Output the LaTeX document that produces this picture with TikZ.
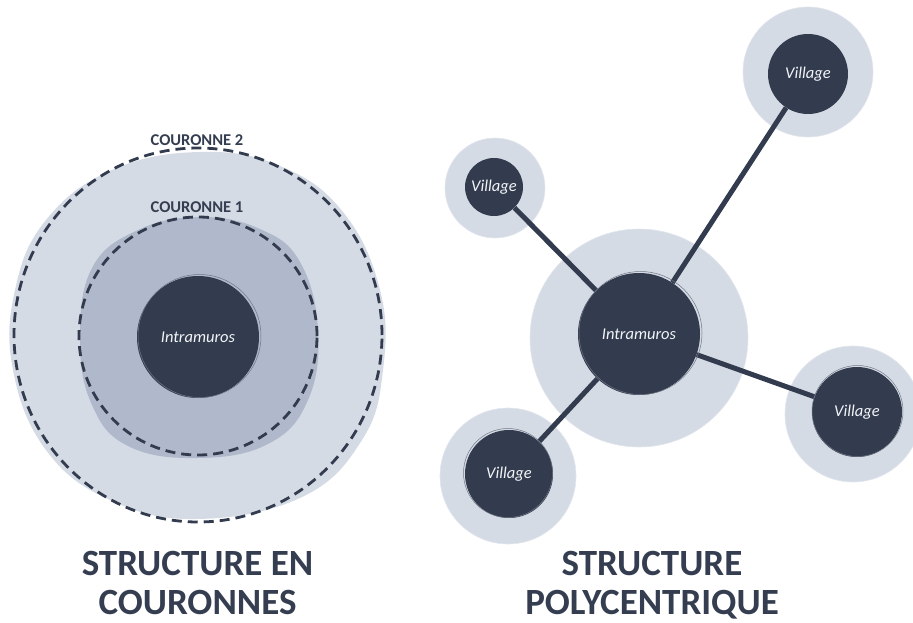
\documentclass[tikz,border=0pt]{standalone}
\usepackage{fontspec}
\setmainfont{Carlito}
\definecolor{dark}{HTML}{323C4E}
\definecolor{halo}{HTML}{D5DBE5}
\definecolor{mid}{HTML}{AFB9CB}
\definecolor{txt}{HTML}{343E50}
\definecolor{light}{HTML}{F2F4F7}
\tikzset{
  halodisc/.style={circle, fill=halo, draw=halo!70!white, line width=0.6pt, inner sep=0pt, minimum size=#1},
  darkdisc/.style={circle, fill=dark, inner sep=0pt, minimum size=#1, text=light,
     font=\itshape\fontsize{16.5}{18}\selectfont},
  link/.style={draw=dark, line width=5pt},
  ring/.style={draw=dark, line width=2.8pt, dash pattern=on 10pt off 6pt},
  ringlabel/.style={text=txt, font=\bfseries\fontsize{16.5}{18}\selectfont, inner sep=0pt, anchor=base},
  title/.style={text=txt, font=\bfseries\fontsize{37}{43}\selectfont, inner sep=0pt, anchor=base},
  sketch/.style={draw=dark!70!white, line width=0.5pt}
}
\begin{document}
\begin{tikzpicture}[x=1pt,y=-1pt]
\useasboundingbox (0,0) rectangle (913,623);

% ---------- left: structure en couronnes ----------
\fill[halo] plot[smooth cycle, tension=0.7] coordinates {
  (200,152) (280,166) (343,212) (380,290) (383,370) (362,440) (302,497)
  (197,519) (110,500) (46,450) (13,370) (15,290) (46,220) (112,170)};
\draw[ring] (198,335) ellipse [x radius=184pt, y radius=187pt];

\fill[mid] plot[smooth cycle, tension=0.7] coordinates {
  (200,217) (260,229) (300,262) (318,330) (308,400) (268,444) (197,458)
  (128,446) (92,405) (80,340) (92,268) (138,230)};
\draw[ring] (198,336) circle [radius=119pt];

\node[ringlabel] (c2) at (197,146) {COURONNE 2};
\node[ringlabel] (c1) at (197,212) {COURONNE 1};

\node[darkdisc=122pt] (im1) at (198,337) {Intramuros};
\draw[sketch] (199.5,336) circle [radius=61.5pt];

% ---------- right: structure polycentrique ----------
\node[halodisc=218pt] (hc) at (639,338) {};
\node[halodisc=130pt] (htr) at (808,72) {};
\node[halodisc=100pt] (htl) at (495,188) {};
\node[halodisc=136pt] (hr) at (853,414) {};
\node[halodisc=136pt] (hbl) at (508,476) {};

\node[darkdisc=122pt] (im2) at (639,334) {Intramuros};
\node[darkdisc=80pt] (vtr) at (808,74) {Village};
\node[darkdisc=58pt] (vtl) at (494,187) {Village};
\node[darkdisc=90pt] (vr) at (857,412) {Village};
\node[darkdisc=88pt] (vbl) at (509,474) {Village};

\path[link] (im2) -- (vtr);
\path[link] (im2) -- (vtl);
\path[link] (im2) -- (vr);
\path[link] (im2) -- (vbl);

\draw[sketch] (640.5,333) circle [radius=61.5pt];
\draw[sketch] (857.5,411) circle [radius=45.5pt];
\draw[sketch] (508,473) circle [radius=44.5pt];

% ---------- titles ----------
\node[title] (t1a) at (197.5,575) {STRUCTURE EN};
\node[title] (t1b) at (197.5,614) {COURONNES};
\node[title] (t2a) at (652,575) {STRUCTURE};
\node[title] (t2b) at (652,614) {POLYCENTRIQUE};
\end{tikzpicture}
\end{document}
